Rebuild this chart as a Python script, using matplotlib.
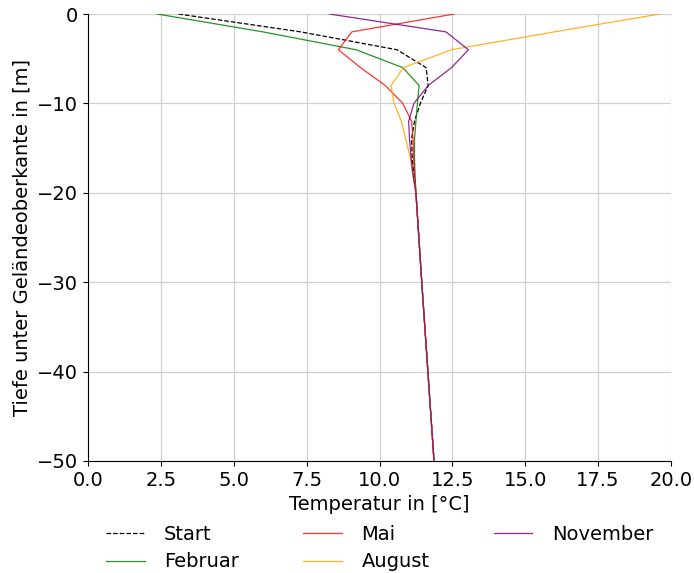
import matplotlib
matplotlib.use("Agg")
import matplotlib.pyplot as plt

# depth nodes below ground surface [m]
depth = [0, -2, -4, -6, -8, -10, -12, -14, -16, -18, -20, -30, -40, -50]

# temperature profiles [°C]
tStart = [3.1, 7.3, 10.6, 11.6, 11.67, 11.4, 11.2, 11.1, 11.12, 11.18, 11.25, 11.45, 11.66, 11.87]
tFeb = [2.37, 6.0, 9.2, 10.8, 11.36, 11.3, 11.25, 11.2, 11.2, 11.22, 11.25, 11.45, 11.66, 11.87]
tMai = [12.56, 9.05, 8.59, 9.35, 10.2, 10.8, 11.1, 11.15, 11.17, 11.2, 11.25, 11.45, 11.66, 11.87]
tAug = [19.62, 16.0, 12.47, 10.82, 10.4, 10.5, 10.75, 10.9, 11.05, 11.15, 11.25, 11.45, 11.66, 11.87]
tNov = [8.28, 12.28, 13.05, 12.47, 11.67, 11.18, 11.0, 11.03, 11.08, 11.15, 11.25, 11.45, 11.66, 11.87]

plt.rcParams['font.size'] = 14

fig = plt.figure(figsize=(6.94, 5.73), dpi=100)
ax = fig.add_axes([88/694, 1 - 461/573, (671-88)/694, (461-14)/573])

ax.plot(tStart, depth, color="black", linestyle="--", linewidth=0.9, label="Start")
ax.plot(tFeb, depth, color="green", linewidth=0.9, alpha=0.85, label="Februar")
ax.plot(tMai, depth, color="red", linewidth=0.9, alpha=0.8, label="Mai")
ax.plot(tAug, depth, color="orange", linewidth=0.9, alpha=0.85, label="August")
ax.plot(tNov, depth, color="purple", linewidth=0.9, alpha=0.85, label="November")

ax.set_xlim(0, 20)
ax.set_ylim(-50, 0)
ax.set_xticks([0, 2.5, 5, 7.5, 10, 12.5, 15, 17.5, 20])
ax.set_xlabel("Temperatur in [°C]")
ax.set_ylabel("Tiefe unter Geländeoberkante in [m]")
ax.grid(True, color="#d0d0d0", linewidth=0.9)
ax.set_axisbelow(True)
ax.spines["top"].set_visible(False)
ax.spines["right"].set_visible(False)

ax.legend(loc="upper center", bbox_to_anchor=(0.5, -0.125), ncol=3, frameon=False,
          columnspacing=3.3, handlelength=2.0, handletextpad=1.0,
          borderaxespad=0, labelspacing=0.45)

fig.savefig("out.png", dpi=100)
